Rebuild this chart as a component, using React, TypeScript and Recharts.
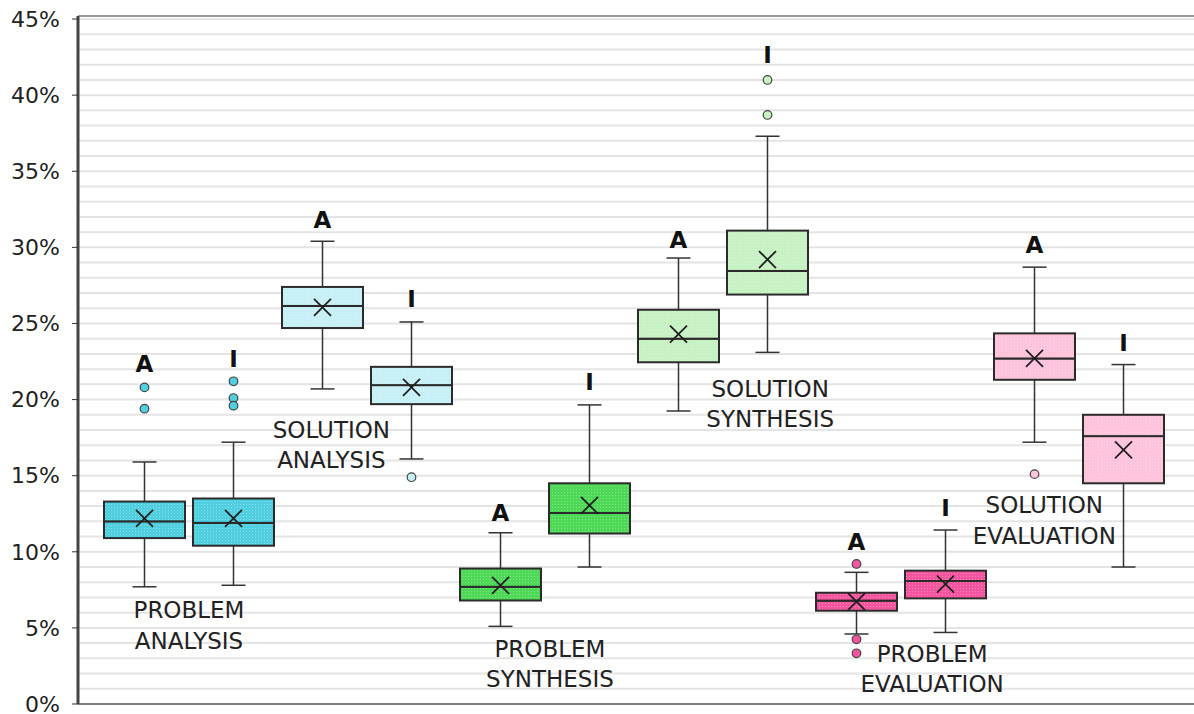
import React from "react";
import {
  ComposedChart,
  Bar,
  Scatter,
  XAxis,
  YAxis,
  CartesianGrid,
  ReferenceLine,
} from "recharts";

// categories and series
const groups = [
  "PROBLEM ANALYSIS",
  "SOLUTION ANALYSIS",
  "PROBLEM SYNTHESIS",
  "SOLUTION SYNTHESIS",
  "PROBLEM EVALUATION",
  "SOLUTION EVALUATION",
];
const seriesNames = ["A", "I"];

// one entry per box: PA-A, PA-I, SA-A, SA-I, PS-A, PS-I, SS-A, SS-I, PE-A, PE-I, SE-A, SE-I
const boxPos = [1, 2, 3, 4, 5, 6, 7, 8, 9, 10, 11, 12];
const boxMin = [7.7, 7.8, 20.7, 16.1, 5.1, 9.0, 19.25, 23.1, 4.6, 4.7, 17.2, 9.0];
const boxQ1 = [10.9, 10.4, 24.7, 19.7, 6.8, 11.2, 22.45, 26.9, 6.13, 6.94, 21.3, 14.5];
const boxMedian = [12.0, 11.9, 26.15, 20.95, 7.7, 12.55, 24.0, 28.45, 6.79, 8.08, 22.7, 17.6];
const boxQ3 = [13.3, 13.5, 27.4, 22.15, 8.9, 14.5, 25.9, 31.1, 7.31, 8.76, 24.35, 19.0];
const boxMax = [15.9, 17.2, 30.4, 25.1, 11.25, 19.65, 29.3, 37.3, 8.65, 11.43, 28.7, 22.3];
const boxMean = [12.2, 12.2, 26.05, 20.8, 7.8, 13.05, 24.3, 29.2, 6.72, 7.88, 22.7, 16.7];
const boxOutliers = [
  [20.8, 19.4],
  [21.2, 20.1, 19.6],
  [],
  [14.9],
  [],
  [],
  [],
  [41.0, 38.7],
  [9.2, 4.25, 3.33],
  [],
  [15.1],
  [],
];

// y axis ticks and 1% grid
const yTicks = [0, 5, 10, 15, 20, 25, 30, 35, 40, 45];
const gridValues = [
  1, 2, 3, 4, 5, 6, 7, 8, 9, 10, 11, 12, 13, 14, 15, 16, 17, 18, 19, 20, 21,
  22, 23, 24, 25, 26, 27, 28, 29, 30, 31, 32, 33, 34, 35, 36, 37, 38, 39, 40,
  41, 42, 43, 44, 45,
];

// annotation anchors (text baselines, in axis units)
const letterLevel = [21.83, 22.13, 31.25, 26.1, 12.02, 20.62, 29.98, 42.12, 10.11, 12.33, 29.6, 23.17];
const groupLabelPos = [1.5, 3.1, 5.556, 8.03, 9.85, 11.11];
const groupLabelLevel = [5.62, 17.5, 3.11, 20.19, 2.78, 12.52];

const groupColors = ["#4fcfdf", "#c6f0f5", "#4dd856", "#c6f1c2", "#f5549e", "#ffc3dc"];
const FONT = "'DejaVu Sans', sans-serif";
const INK = "#333";
const Y_MAX = 45.2;

const boxes = boxPos.map((x, i) => {
  const g = Math.floor(i / 2);
  return {
    x,
    base: boxMin[i],
    lowWhisker: boxQ1[i] - boxMin[i],
    lowBox: boxMedian[i] - boxQ1[i],
    highBox: boxQ3[i] - boxMedian[i],
    highWhisker: boxMax[i] - boxQ3[i],
    fill: `url(#tex${g})`,
  };
});

const means = boxPos.map((x, i) => ({ x, y: boxMean[i] }));
const outliers = boxPos.flatMap((x, i) =>
  boxOutliers[i].map((y) => ({ x, y, color: groupColors[Math.floor(i / 2)] }))
);
const letters = boxPos.map((x, i) => ({
  x,
  y: letterLevel[i],
  text: seriesNames[i % 2],
}));
const groupLabels = groups.map((name, g) => ({
  x: groupLabelPos[g],
  y: groupLabelLevel[g],
  lines: name.split(" "),
}));

const Empty = () => <g />;

const LowWhisker = (p: any) => {
  const cx = p.x + p.width / 2;
  const yb = p.y + p.height;
  return (
    <g stroke={INK} strokeWidth={1.5}>
      <line x1={cx} x2={cx} y1={p.y} y2={yb} />
      <line x1={cx - 12} x2={cx + 12} y1={yb} y2={yb} />
    </g>
  );
};

const HighWhisker = (p: any) => {
  const cx = p.x + p.width / 2;
  return (
    <g stroke={INK} strokeWidth={1.5}>
      <line x1={cx} x2={cx} y1={p.y} y2={p.y + p.height} />
      <line x1={cx - 12} x2={cx + 12} y1={p.y} y2={p.y} />
    </g>
  );
};

const BoxPart = (p: any) => (
  <rect
    x={p.x}
    y={p.y}
    width={p.width}
    height={p.height}
    fill={p.payload.fill}
    stroke="#2b2b2b"
    strokeWidth={2}
  />
);

const MeanMark = (p: any) => (
  <g stroke="#1f1f1f" strokeWidth={1.8}>
    <line x1={p.cx - 8.5} x2={p.cx + 8.5} y1={p.cy - 8.5} y2={p.cy + 8.5} />
    <line x1={p.cx - 8.5} x2={p.cx + 8.5} y1={p.cy + 8.5} y2={p.cy - 8.5} />
  </g>
);

const OutlierMark = (p: any) => (
  <circle cx={p.cx} cy={p.cy} r={4.3} fill={p.payload.color} stroke="#444" strokeWidth={1.2} />
);

const LetterMark = (p: any) => (
  <text
    x={p.cx}
    y={p.cy}
    textAnchor="middle"
    fontFamily={FONT}
    fontWeight="bold"
    fontSize={23}
    fill="#111"
  >
    {p.payload.text}
  </text>
);

const GroupLabel = (p: any) => (
  <text x={p.cx} y={p.cy} textAnchor="middle" fontFamily={FONT} fontSize={23} fill="#222">
    {p.payload.lines.map((line: string, k: number) => (
      <tspan key={k} x={p.cx} dy={k === 0 ? 0 : 30.7}>
        {line}
      </tspan>
    ))}
  </text>
);

export default function App() {
  return (
    <div style={{ position: "absolute", left: 0, top: 0, background: "#fff" }}>
      <ComposedChart
        width={1194}
        height={714}
        data={boxes}
        margin={{ top: 16, right: 0, bottom: 0, left: 0 }}
        barSize={81}
      >
        <defs>
          {groupColors.map((c, g) => (
            <pattern
              key={g}
              id={`tex${g}`}
              width={3}
              height={3}
              patternUnits="userSpaceOnUse"
            >
              <rect width={3} height={3} fill={c} />
              <rect width={1} height={1} fill="#fff" fillOpacity={0.3} />
            </pattern>
          ))}
        </defs>
        <CartesianGrid
          vertical={false}
          horizontalValues={gridValues}
          stroke="#e4e4e4"
          strokeWidth={2}
        />
        <XAxis
          type="category"
          dataKey="x"
          padding={{ left: 22, right: 26 }}
          tick={false}
          tickLine={false}
          axisLine={{ stroke: "#555", strokeWidth: 1.5 }}
          height={10}
        />
        <XAxis
          xAxisId="num"
          type="number"
          dataKey="x"
          domain={[0.253, 12.792]}
          allowDataOverflow
          hide
        />
        <YAxis
          type="number"
          domain={[0, Y_MAX]}
          ticks={yTicks}
          interval={0}
          tickFormatter={(v: number) => `${v}%`}
          width={78}
          tick={{ fill: "#222", fontSize: 22, fontFamily: FONT }}
          tickLine={{ stroke: INK }}
          tickSize={6}
          tickMargin={12}
          axisLine={{ stroke: "#444", strokeWidth: 3 }}
          allowDataOverflow
        />
        <ReferenceLine y={Y_MAX} stroke="#777" strokeWidth={1.5} />
        <Bar stackId="box" dataKey="base" shape={Empty} isAnimationActive={false} />
        <Bar stackId="box" dataKey="lowWhisker" shape={LowWhisker} isAnimationActive={false} />
        <Bar stackId="box" dataKey="lowBox" shape={BoxPart} isAnimationActive={false} />
        <Bar stackId="box" dataKey="highBox" shape={BoxPart} isAnimationActive={false} />
        <Bar stackId="box" dataKey="highWhisker" shape={HighWhisker} isAnimationActive={false} />
        <Scatter xAxisId="num" data={means} dataKey="y" shape={MeanMark} isAnimationActive={false} />
        <Scatter xAxisId="num" data={outliers} dataKey="y" shape={OutlierMark} isAnimationActive={false} />
        <Scatter xAxisId="num" data={letters} dataKey="y" shape={LetterMark} isAnimationActive={false} />
        <Scatter xAxisId="num" data={groupLabels} dataKey="y" shape={GroupLabel} isAnimationActive={false} />
      </ComposedChart>
    </div>
  );
}
